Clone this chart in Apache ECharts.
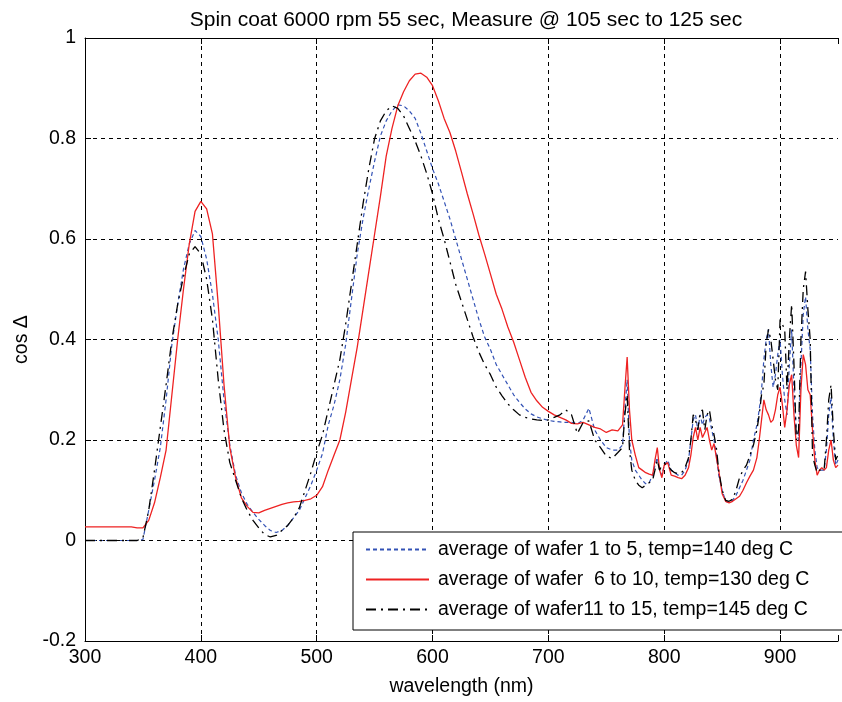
<!DOCTYPE html>
<html><head><meta charset="utf-8">
<script src="https://cdn.jsdelivr.net/npm/echarts@6/dist/echarts.min.js"></script>
<style>html,body{margin:0;padding:0;background:#fff}#c{width:842px;height:702px}</style>
</head><body><div id="c"></div>
<script>
const titleText = 'Spin coat 6000 rpm 55 sec, Measure @ 105 sec to 125 sec';
const xAxisName = 'wavelength (nm)';
const yAxisName = 'cos \u0394';
const seriesNames = [
  'average of wafer 1 to 5, temp=140 deg C',
  'average of wafer  6 to 10, temp=130 deg C',
  'average of wafer11 to 15, temp=145 deg C'
];
const xTicks = [300, 400, 500, 600, 700, 800, 900];
const yTicks = [-0.2, 0, 0.2, 0.4, 0.6, 0.8, 1];

const wavelength = [
  300,340,345,350,355,360,365,370,375,380,
  385,390,395,400,405,410,415,420,425,430,
  435,440,445,450,455,460,465,470,475,480,
  485,490,495,500,505,510,515,520,525,530,
  535,540,545,550,555,560,565,570,575,580,
  585,590,595,600,605,610,615,620,625,630,
  635,640,645,650,655,660,665,670,675,680,
  685,690,695,700,
  705,710,715,720,725,730,735,740,745,750,
  755,760,764,766,768,770,772,775,778,781,
  784,787,790,792,794,796,798,800,803,806,
  809,812,815,818,821,823,825,827,829,831,
  833,835,837,839,841,843,845,847,850,853,
  856,859,862,865,868,871,874,877,880,882,
  884,886,888,890,892,894,896,898,900,902,
  904,906,908,910,912,914,916,918,920,922,
  924,926,928,930,932,934,936,938,940,942,
  944,946,948,950
];

const cosWafer1to5 = [
  0,0,0,0.002,0.06,0.12,0.185,0.28,0.39,0.47,
  0.54,0.59,0.617,0.605,0.56,0.49,0.40,0.28,0.19,0.13,
  0.095,0.072,0.056,0.042,0.03,0.02,0.016,0.02,0.03,0.045,
  0.06,0.085,0.11,0.14,0.173,0.23,0.27,0.32,0.39,0.48,
  0.57,0.64,0.70,0.755,0.805,0.835,0.855,0.867,0.865,0.855,
  0.84,0.81,0.775,0.74,0.71,0.675,0.64,0.60,0.56,0.52,
  0.48,0.44,0.405,0.38,0.35,0.33,0.31,0.29,0.275,0.262,
  0.252,0.246,0.242,0.239,
  0.237,0.236,0.235,0.235,0.232,0.24,0.263,0.22,0.2,0.185,
  0.18,0.18,0.19,0.26,0.32,0.2,0.16,0.14,0.13,0.12,
  0.113,0.115,0.13,0.15,0.165,0.14,0.13,0.15,0.16,0.14,
  0.135,0.13,0.13,0.14,0.16,0.2,0.24,0.25,0.22,0.25,
  0.23,0.245,0.25,0.243,0.22,0.2,0.17,0.13,0.1,0.078,
  0.076,0.08,0.09,0.105,0.12,0.14,0.16,0.2,0.23,0.26,
  0.3,0.36,0.4,0.42,0.35,0.305,0.33,0.37,0.4,0.33,
  0.28,0.25,0.35,0.42,0.3,0.22,0.2,0.35,0.45,0.485,
  0.42,0.38,0.25,0.18,0.145,0.14,0.14,0.14,0.18,0.25,
  0.285,0.2,0.15,0.16
];

const cosWafer6to10 = [
  0.027,0.027,0.025,0.025,0.04,0.075,0.125,0.18,0.29,0.40,
  0.50,0.59,0.655,0.675,0.66,0.61,0.47,0.31,0.185,0.125,
  0.085,0.068,0.056,0.055,0.06,0.064,0.068,0.072,0.075,0.077,
  0.078,0.08,0.083,0.09,0.107,0.14,0.17,0.2,0.255,0.32,
  0.385,0.46,0.535,0.61,0.685,0.765,0.82,0.865,0.893,0.915,
  0.928,0.93,0.922,0.905,0.875,0.84,0.812,0.775,0.733,0.69,
  0.65,0.608,0.57,0.53,0.49,0.46,0.425,0.395,0.36,0.325,
  0.295,0.278,0.265,0.257,
  0.25,0.245,0.24,0.233,0.232,0.235,0.23,0.225,0.222,0.215,
  0.22,0.218,0.23,0.3,0.365,0.26,0.2,0.17,0.145,0.14,
  0.135,0.132,0.13,0.16,0.185,0.14,0.125,0.15,0.155,0.13,
  0.128,0.125,0.123,0.13,0.145,0.17,0.205,0.225,0.2,0.225,
  0.205,0.215,0.225,0.2,0.18,0.193,0.165,0.14,0.093,0.078,
  0.075,0.078,0.083,0.088,0.1,0.115,0.128,0.14,0.165,0.2,
  0.24,0.28,0.26,0.25,0.235,0.24,0.26,0.29,0.305,0.27,
  0.225,0.26,0.31,0.33,0.25,0.19,0.165,0.3,0.37,0.35,
  0.30,0.29,0.22,0.16,0.13,0.14,0.145,0.14,0.145,0.18,
  0.2,0.16,0.145,0.15
];

const cosWafer11to15 = [
  0,0,0,0.005,0.06,0.14,0.225,0.31,0.40,0.47,
  0.525,0.57,0.585,0.57,0.52,0.44,0.32,0.22,0.155,0.12,
  0.085,0.06,0.04,0.025,0.012,0.007,0.01,0.02,0.03,0.045,
  0.065,0.1,0.135,0.175,0.21,0.26,0.31,0.36,0.43,0.51,
  0.59,0.67,0.74,0.80,0.835,0.855,0.865,0.86,0.845,0.82,
  0.795,0.765,0.73,0.69,0.64,0.6,0.555,0.51,0.475,0.44,
  0.405,0.375,0.35,0.33,0.305,0.288,0.272,0.26,0.25,0.245,
  0.242,0.24,0.239,0.24,
  0.245,0.25,0.26,0.25,0.213,0.235,0.238,0.2,0.185,0.168,
  0.163,0.175,0.185,0.25,0.29,0.18,0.14,0.12,0.11,0.105,
  0.11,0.115,0.12,0.14,0.16,0.14,0.15,0.153,0.15,0.14,
  0.135,0.133,0.135,0.145,0.165,0.2,0.25,0.24,0.22,0.255,
  0.26,0.22,0.25,0.26,0.23,0.21,0.185,0.14,0.1,0.08,
  0.078,0.082,0.1,0.125,0.14,0.15,0.17,0.19,0.22,0.25,
  0.29,0.31,0.39,0.42,0.4,0.36,0.32,0.3,0.44,0.43,
  0.42,0.3,0.4,0.47,0.35,0.2,0.22,0.4,0.5,0.535,
  0.46,0.4,0.17,0.15,0.135,0.14,0.14,0.14,0.2,0.28,
  0.31,0.22,0.16,0.17
];

[cosWafer1to5, cosWafer6to10, cosWafer11to15].forEach((a, i) => {
  if (a.length !== wavelength.length) throw new Error('length mismatch ' + i + ': ' + a.length + ' vs ' + wavelength.length);
});

const pairs = vals => wavelength.map((w, i) => [w, vals[i]]);
const FONT = "'Liberation Sans', Arial, sans-serif";
const FS = 19.5;

const chart = echarts.init(document.getElementById('c'), null, {renderer: 'canvas'});
chart.setOption({
  animation: false,
  backgroundColor: '#fff',
  textStyle: {fontFamily: FONT, color: '#000'},
  title: {
    text: titleText, left: 461, top: 5, textAlign: 'center',
    textStyle: {fontFamily: FONT, fontSize: 21, fontWeight: 'normal', color: '#000'}
  },
  grid: {left: 85, right: 4, top: 38, bottom: 61, containLabel: false},
  legend: {
    data: seriesNames, orient: 'vertical', left: 353, top: 532,
    backgroundColor: '#fff', borderColor: '#000', borderWidth: 1,
    padding: [6, 40, 9, 12], itemWidth: 63, itemHeight: 14, itemGap: 7,
    selectedMode: false,
    itemStyle: {color: 'rgba(0,0,0,0)', borderColor: 'rgba(0,0,0,0)', borderWidth: 0, opacity: 0},
    textStyle: {fontFamily: FONT, fontSize: FS, color: '#000', lineHeight: 23, padding: [0, 0, 0, 4]}
  },
  xAxis: [{
    type: 'value', min: 300, max: 950, interval: 100,
    name: xAxisName, nameLocation: 'middle', nameGap: 36,
    nameTextStyle: {fontFamily: FONT, fontSize: FS, color: '#000'},
    axisLine: {show: true, onZero: false, lineStyle: {color: '#000', width: 1}},
    axisTick: {show: true, inside: true, length: 6, lineStyle: {color: '#000'}},
    axisLabel: {fontFamily: FONT, fontSize: FS, color: '#000', margin: 7,
      formatter: v => (xTicks.indexOf(v) >= 0 ? String(v) : '')},
    splitLine: {show: true, showMaxLine: false, lineStyle: {color: '#000', type: [4, 4], width: 1}}
  }, {
    type: 'value', position: 'top', min: 300, max: 950, interval: 100,
    axisLine: {show: true, onZero: false, lineStyle: {color: '#000', width: 1}},
    axisTick: {show: true, inside: true, length: 6, lineStyle: {color: '#000'}},
    axisLabel: {show: false}, splitLine: {show: false}
  }],
  yAxis: [{
    type: 'value', min: -0.2, max: 1, interval: 0.2,
    name: yAxisName, nameLocation: 'middle', nameGap: 52, nameRotate: 90,
    nameTextStyle: {fontFamily: FONT, fontSize: FS, color: '#000'},
    axisLine: {show: true, onZero: false, lineStyle: {color: '#000', width: 1}},
    axisTick: {show: true, inside: true, length: 6, lineStyle: {color: '#000'}},
    axisLabel: {fontFamily: FONT, fontSize: FS, color: '#000', margin: 9,
      formatter: v => {
        const r = Math.round(v * 10) / 10;
        return yTicks.some(t => Math.abs(t - r) < 1e-9) ? String(r) : '';
      }},
    splitLine: {show: true, lineStyle: {color: '#000', type: [4, 4], width: 1}}
  }],
  series: [{
    name: seriesNames[0], type: 'line', data: pairs(cosWafer1to5),
    showSymbol: false, symbol: 'none',
    lineStyle: {color: '#3352b5', width: 1.2, type: [4, 3]},
    itemStyle: {color: '#3352b5'}
  }, {
    name: seriesNames[1], type: 'line', data: pairs(cosWafer6to10),
    showSymbol: false, symbol: 'none',
    lineStyle: {color: '#ee2222', width: 1.3, type: 'solid'},
    itemStyle: {color: '#ee2222'}
  }, {
    name: seriesNames[2], type: 'line', data: pairs(cosWafer11to15),
    showSymbol: false, symbol: 'none',
    lineStyle: {color: '#000', width: 1.3, type: [10, 5, 2, 5]},
    itemStyle: {color: '#000'}
  }]
});
</script></body></html>
